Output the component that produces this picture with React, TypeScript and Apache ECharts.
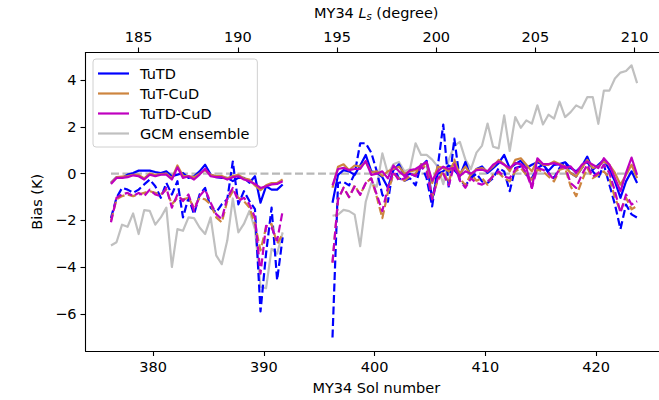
import React, { useEffect, useRef } from 'react';
import * as echarts from 'echarts';

// sol positions of the two observation windows
const sol1 = [376.2, 376.7, 377.2, 377.7, 378.2, 378.7, 379.2, 379.7, 380.2, 380.7, 381.2, 381.7, 382.2, 382.7, 383.2, 383.7,
  384.2, 384.7, 385.2, 385.7, 386.2, 386.7, 387.2, 387.7, 388.2, 388.7, 389.2, 389.7, 390.2, 390.7, 391.2, 391.7];
const sol2 = [396.2, 396.7, 397.2, 397.7, 398.2, 398.7, 399.2, 399.7, 400.2, 400.7, 401.2, 401.7, 402.2, 402.7, 403.2, 403.7,
  404.2, 404.7, 405.2, 405.7, 406.2, 406.7, 407.2, 407.7, 408.2, 408.7, 409.2, 409.7, 410.2, 410.7, 411.2, 411.7,
  412.2, 412.7, 413.2, 413.7, 414.2, 414.7, 415.2, 415.7, 416.2, 416.7, 417.2, 417.7, 418.2, 418.7, 419.2, 419.7,
  420.2, 420.7, 421.2, 421.7, 422.2, 422.7, 423.2, 423.7];

// TuTD
const tutdSolid1 = [-0.39, -0.15, -0.18, -0.04, 0.03, 0.13, 0.13, 0.13, 0.07, 0.03, 0.1, -0.11, -0.04, 0.03, -0.18, -0.11,
  0.1, 0.38, -0.04, -0.15, -0.18, -0.18, -0.32, -0.18, -0.18, -0.39, -0.11, -1.24, -0.54, -0.68, -0.68, -0.46];
const tutdSolid2 = [-1.24, -0.05, 0.15, 0.1, -0.05, 0.35, 0.8, 0.1, 0.05, -0.15, -0.6, 0.15, 0.4, -0.1, 0.0, -0.1,
  0.3, 0.55, -1.1, 0.0, 0.1, 0.35, 0.15, -0.1, 0.5, -0.15, 0.2,
  0.31, 0.03, 0.24, 0.45, 0.8, 0.24, 0.41, 0.55, 0.24, 0.38, 0.49, 0.38, 0.12, 0.38, 0.41, 0.49, 0.24, 0.1, 0.31,
  0.73, 0.17, 0.38, 0.59, 0.17, -0.33, -1.03, -0.33, 0.1, -0.4];
const tutdDash1 = [-1.9, -1.03, -0.61, -0.68, -0.82, -0.68, -0.46, -0.25, -0.54, -1.03, -0.39, -0.89, -0.32, -1.87, -1.03, -1.73,
  -0.89, -0.61, -1.45, -1.66, -1.31, -1.1, 0.52, -1.31, -0.75, -1.17, -1.52, -5.89, -3.42, -1.45, -4.55, -2.72];
const tutdDash2 = [-7.0, -0.4, -0.35, -0.5, 0.0, 1.3, 1.3, 0.9, 0.1, -0.9, -1.2, 0.3, -0.2, -0.3, -0.2, -0.5,
  0.4, -0.2, -1.4, 0.3, 2.1, -0.6, 1.5, -0.3, -0.5, -0.2, 0.0,
  -0.33, -0.4, -0.19, 0.24, 0.1, -0.75, 0.24, 0.31, -0.05, -0.19, 0.24, 0.38, 0.03, -0.19, 0.24, 0.52, 0.03, -0.12, 0.24,
  0.52, 0.1, -0.19, 0.38, -0.47, -1.32, -2.37, -1.32, -1.74, -1.88];

// TuT-CuD
const tutcSolid1 = [-0.4, -0.15, -0.12, -0.1, -0.05, -0.05, -0.2, 0.0, -0.05, -0.02, 0.0, -0.2, 0.35, -0.1, -0.1, -0.15,
  0.0, 0.15, -0.05, -0.1, -0.1, -0.2, -0.1, -0.05, -0.2, -0.25, -0.5, -0.7, -0.5, -0.4, -0.4, -0.25];
const tutcSolid2 = [-0.6, 0.3, 0.4, 0.15, 0.35, 0.3, 0.5, 0.05, 0.1, -0.1, 0.1, 0.2, 0.3, 0.0, 0.1, 0.15,
  0.3, 0.45, -0.4, 0.3, 0.25, 0.1, 0.5, 0.0, 0.3, -0.05, 0.2,
  0.24, 0.1, 0.31, 0.59, 0.41, 0.1, 0.59, 0.66, 0.38, 0.1, 0.59, 0.38, 0.38, 0.52, 0.41, 0.31, 0.03, -0.12, 0.24,
  0.59, 0.24, 0.31, 0.52, 0.38, 0.03, -0.47, -0.05, 0.38, -0.19];
const tutcDash1 = [-2.01, -1.1, -0.96, -0.89, -0.96, -0.89, -0.82, -0.75, -0.82, -0.89, -0.68, -1.31, -1.03, -1.1, -1.03, -1.45,
  -1.03, -1.1, -1.31, -1.87, -2.08, -1.17, -0.75, -1.03, -1.17, -1.45, -2.15, -3.28, -2.3, -2.15, -3.0, -2.58];
const tutcDash2 = [-3.8, -1.1, -0.6, -1.0, -0.5, -0.9, -0.4, -0.2, -1.0, -1.9, -0.8, 0.0, -0.2, -0.3, -0.1, 0.0,
  0.4, 0.2, -1.0, -0.3, 0.1, -0.4, 0.6, -0.2, -0.5, 0.0, -0.3,
  -0.19, -0.47, -0.05, 0.03, -0.19, -0.33, 0.1, 0.24, -0.05, -0.26, 0.17, 0.1, -0.12, -0.33, 0.17, 0.24, -0.54, -0.96, -0.33,
  0.24, -0.19, -0.05, 0.1, -0.19, -1.03, -1.6, -1.03, -1.52, -1.38];

// TuTD-CuD
const tutdcSolid1 = [-0.44, -0.18, -0.18, -0.15, -0.07, -0.11, -0.25, -0.04, -0.11, -0.04, -0.04, -0.25, 0.27, -0.18, -0.11, -0.25,
  -0.04, 0.21, -0.11, -0.15, -0.15, -0.25, -0.15, -0.11, -0.25, -0.32, -0.44, -0.61, -0.54, -0.46, -0.44, -0.32];
const tutdcSolid2 = [-0.5, 0.2, 0.25, 0.15, 0.2, 0.2, 0.55, -0.05, 0.0, 0.1, -0.2, 0.35, 0.1, -0.1, 0.15, 0.2,
  0.35, 0.5, -0.3, 0.1, 0.3, 0.2, 0.25, -0.1, 0.1, 0.0, 0.15,
  0.17, 0.1, 0.38, 0.52, 0.38, 0.24, 0.45, 0.41, 0.24, -0.61, 0.66, 0.41, 0.41, 0.45, 0.38, 0.24, 0.31, 0.03, 0.38,
  0.52, 0.38, 0.24, 0.66, 0.38, -0.19, -0.75, 0.03, 0.69, -0.05];
const tutdcDash1 = [-2.08, -1.03, -0.89, -0.82, -0.96, -0.82, -0.96, -0.68, -0.89, -0.96, -0.61, -1.45, -0.89, -1.17, -0.89, -1.59,
  -0.96, -0.68, -1.24, -1.73, -1.94, -1.03, -0.61, -1.17, -1.03, -1.31, -1.87, -4.27, -2.23, -2.3, -2.86, -1.59];
const tutdcDash2 = [-3.8, -1.1, -0.6, -1.0, -0.55, -0.9, -0.4, -0.2, -0.9, -1.6, -0.6, 0.1, -0.3, -0.2, 0.0, -0.1,
  0.3, 0.1, -1.1, -0.2, 0.0, -0.5, 0.4, -0.3, -0.6, -0.2, -0.4,
  -0.47, -0.33, -0.12, 0.1, -0.12, -0.19, 0.17, 0.38, 0.03, -0.61, 0.24, 0.17, 0.03, -0.26, 0.24, 0.31, -0.4, -0.61, -0.05,
  0.38, -0.12, 0.03, 0.38, 0.03, -0.75, -1.67, -0.89, -1.32, -1.18];

// GCM ensemble
const gcm1 = [-3.07, -2.93, -2.18, -2.27, -1.7, -2.58, -1.56, -1.59, -2.18, -1.87, -1.45, -3.99, -2.37, -2.44, -1.87, -1.9,
  -2.3, -2.58, -1.87, -3.49, -3.87, -2.86, -1.06, -2.51, -2.15, -1.59, -2.37, -4.83, -4.9, -3.21, -3.42, -2.51];
const gcm2 = [-1.8, -1.75, -1.55, -1.6, -1.75, -3.1, -1.2, -0.4, -0.55, 0.87, 0.0, 0.4, 0.5, 0.1, 0.2, 1.3,
  0.8, 0.8, 0.6, 0.3, -0.45, 0.6, 1.2, 1.36, 0.6, 0.2, 0.9,
  1.2, 2.14, 1.15, 1.08, 2.49, 0.97, 2.42, 1.96, 2.28, 2.14, 2.92, 2.1, 2.52, 2.35, 3.08, 2.42, 2.63, 2.92, 2.8,
  3.27, 3.27, 2.13, 3.55, 3.55, 4.07, 4.32, 4.39, 4.63, 3.87];

const solTicks = [380, 390, 400, 410, 420];
const lsTicks = [185, 190, 195, 200, 205, 210];
const biasTicks = [-6, -4, -2, 0, 2, 4];

const FONT = 'DejaVu Sans';
const FS = 14.5;

const BLUE = '#0000ff';
const ORANGE = '#cd853f';
const MAGENTA = '#bf00bf';
const GRAY = '#c0c0c0';

function pairs(a: number[], b: number[]) {
  const out: any[] = sol1.map((s, i) => [s, a[i]]);
  out.push([394, '-']);
  sol2.forEach((s, i) => out.push([s, b[i]]));
  return out;
}

function line(name: string, color: string, data: any[], dashed: boolean, z: number) {
  return {
    name,
    type: 'line',
    data,
    symbol: 'none',
    connectNulls: false,
    z,
    lineStyle: { color, width: 2.2, type: dashed ? [8, 3.5] : 'solid', cap: 'butt', join: 'round' },
    itemStyle: { color },
  };
}

const App: React.FC = () => {
  const chartRef = useRef<HTMLDivElement>(null);

  useEffect(() => {
    if (!chartRef.current) return;
    const myChart = echarts.init(chartRef.current, null, { renderer: 'svg' });

    const tickLabel = { color: '#000', fontFamily: FONT, fontSize: FS };

    const option = {
      animation: false,
      grid: { left: 85.5, top: 52.3, right: 13, bottom: 45.7 },
      legend: {
        orient: 'vertical',
        left: 93,
        top: 59,
        padding: [7, 8, 6, 5],
        icon: 'rect',
        itemWidth: 31,
        itemHeight: 2.2,
        itemGap: 5,
        borderColor: '#d0d0d0',
        borderWidth: 1,
        borderRadius: 3,
        backgroundColor: 'rgba(255,255,255,0.8)',
        textStyle: { color: '#000', fontFamily: FONT, fontSize: FS, padding: [0, 0, 0, 6] },
        data: ['TuTD', 'TuT-CuD', 'TuTD-CuD', 'GCM ensemble'],
      },
      xAxis: [
        {
          type: 'value',
          position: 'bottom',
          min: 373.9,
          max: 426.4,
          name: 'MY34 Sol number',
          nameLocation: 'middle',
          nameGap: 29,
          nameTextStyle: tickLabel,
          axisLine: { onZero: false, lineStyle: { color: '#000', width: 1.1 } },
          axisTick: { length: 5, lineStyle: { color: '#000', width: 1.1 }, customValues: solTicks },
          axisLabel: { ...tickLabel, margin: 8, customValues: solTicks },
          splitLine: { show: false },
        },
        {
          type: 'value',
          position: 'top',
          min: 182.32,
          max: 211.63,
          name: '{a|MY34 }{i|L}{s|s}{a| (degree)}',
          nameLocation: 'middle',
          nameGap: 31,
          nameTextStyle: {
            ...tickLabel,
            rich: {
              a: { fontFamily: FONT, fontSize: FS, color: '#000' },
              i: { fontFamily: FONT, fontSize: FS, fontStyle: 'italic', color: '#000' },
              s: { fontFamily: FONT, fontSize: 10, fontStyle: 'italic', color: '#000', padding: [8, 0, 0, 0] },
            },
          },
          axisLine: { onZero: false, lineStyle: { color: '#000', width: 1.1 } },
          axisTick: { length: 5, lineStyle: { color: '#000', width: 1.1 }, customValues: lsTicks },
          axisLabel: { ...tickLabel, margin: 8, customValues: lsTicks },
          splitLine: { show: false },
        },
      ],
      yAxis: {
        type: 'value',
        min: -7.58,
        max: 5.18,
        name: 'Bias (K)',
        nameLocation: 'middle',
        nameGap: 36,
        nameTextStyle: tickLabel,
        axisLine: { show: true, onZero: false, lineStyle: { color: '#000', width: 1.1 } },
        axisTick: { show: true, length: 5, lineStyle: { color: '#000', width: 1.1 }, customValues: biasTicks },
        axisLabel: {
          ...tickLabel,
          margin: 9,
          customValues: biasTicks,
          formatter: (v: number) => (v < 0 ? '\u2212' + Math.abs(v) : String(v)),
        },
        splitLine: { show: false },
      },
      series: [
        {
          name: 'zero',
          type: 'line',
          data: [[376.2, 0], [423.7, 0]],
          symbol: 'none',
          z: 1,
          lineStyle: { color: '#b8b8b8', width: 2.2, type: [8, 3.5] },
        },
        line('TuTD', BLUE, pairs(tutdSolid1, tutdSolid2), false, 3),
        line('TuTD', BLUE, pairs(tutdDash1, tutdDash2), true, 3),
        line('TuT-CuD', ORANGE, pairs(tutcSolid1, tutcSolid2), false, 4),
        line('TuT-CuD', ORANGE, pairs(tutcDash1, tutcDash2), true, 4),
        line('TuTD-CuD', MAGENTA, pairs(tutdcSolid1, tutdcSolid2), false, 5),
        line('TuTD-CuD', MAGENTA, pairs(tutdcDash1, tutdcDash2), true, 5),
        line('GCM ensemble', GRAY, pairs(gcm1, gcm2), false, 2),
      ],
    };

    myChart.setOption(option as any);
    return () => {
      myChart.dispose();
    };
  }, []);

  return (
    <div style={{ position: 'fixed', left: 0, top: 0, width: 659, height: 400, overflow: 'hidden', background: '#fff' }}>
      <div ref={chartRef} style={{ width: 680, height: 400 }} />
    </div>
  );
};

export default App;
